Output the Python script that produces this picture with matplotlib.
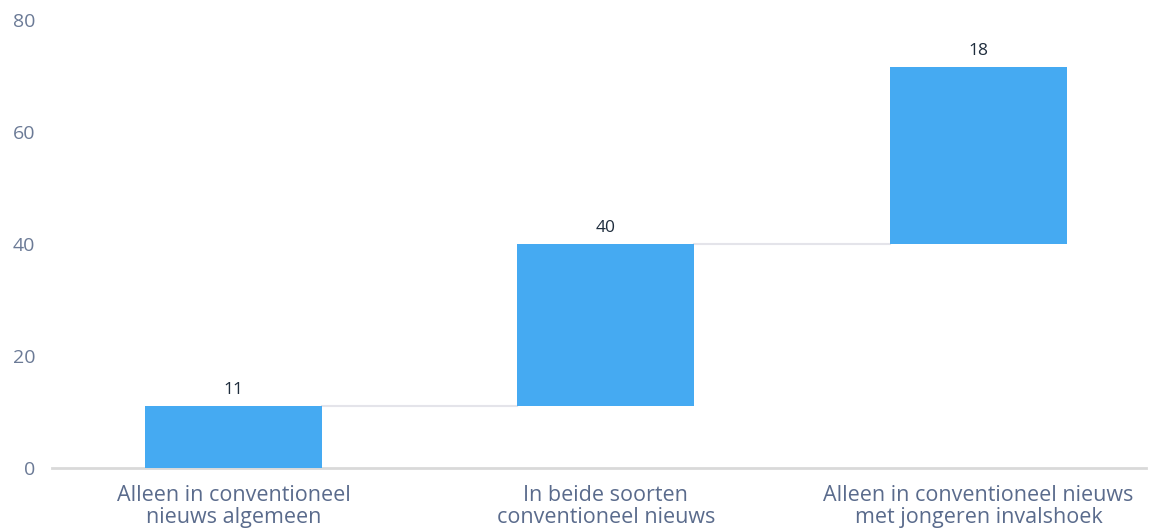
import matplotlib
matplotlib.use("Agg")
import matplotlib.pyplot as plt

categories = ["Alleen in conventioneel\nnieuws algemeen",
              "In beide soorten\nconventioneel nieuws",
              "Alleen in conventioneel nieuws\nmet jongeren invalshoek"]
bar_start = [0, 11, 40]
bar_end = [11, 40, 71.6]
bar_labels = ["11", "40", "18"]
y_ticks = [0, 20, 40, 60, 80]

plt.rcParams['font.family'] = ['Open Sans', 'DejaVu Sans']

fig = plt.figure(figsize=(11.56, 5.28), dpi=100)
ax = fig.add_axes([52 / 1156, 60 / 528, 1094 / 1156, 448 / 528])

x = range(len(categories))
width = 0.475
heights = [e - s for s, e in zip(bar_start, bar_end)]
ax.bar(x, heights, bottom=bar_start, width=width, color="#45aaf2", zorder=3)

# connectors between bars
for i in range(len(categories) - 1):
    ax.plot([i + width / 2, i + 1 - width / 2], [bar_end[i], bar_end[i]],
            color="#e4e4ea", lw=1.5, zorder=2)

for i, lab in enumerate(bar_labels):
    ax.text(i, bar_end[i] + 1.5, lab, ha="center", va="bottom",
            fontsize=12.5, color="#1f2d3d")

ax.set_xlim(-0.487, 2.45)
ax.set_ylim(0, 80)
ax.set_yticks(y_ticks)
ax.set_xticks(list(x))
ax.set_xticklabels(categories, fontsize=15.5, color="#5a6b8c", linespacing=1.08)
ax.tick_params(axis="y", length=0, pad=12, labelsize=14, labelcolor="#6b7a96")
ax.tick_params(axis="x", length=0, pad=12)
for lbl in ax.get_yticklabels():
    lbl.set_horizontalalignment("right")

for s in ["top", "right", "left"]:
    ax.spines[s].set_visible(False)
ax.spines["bottom"].set_color("#d9d9d9")
ax.spines["bottom"].set_linewidth(2)

fig.savefig("out.png", dpi=100)
